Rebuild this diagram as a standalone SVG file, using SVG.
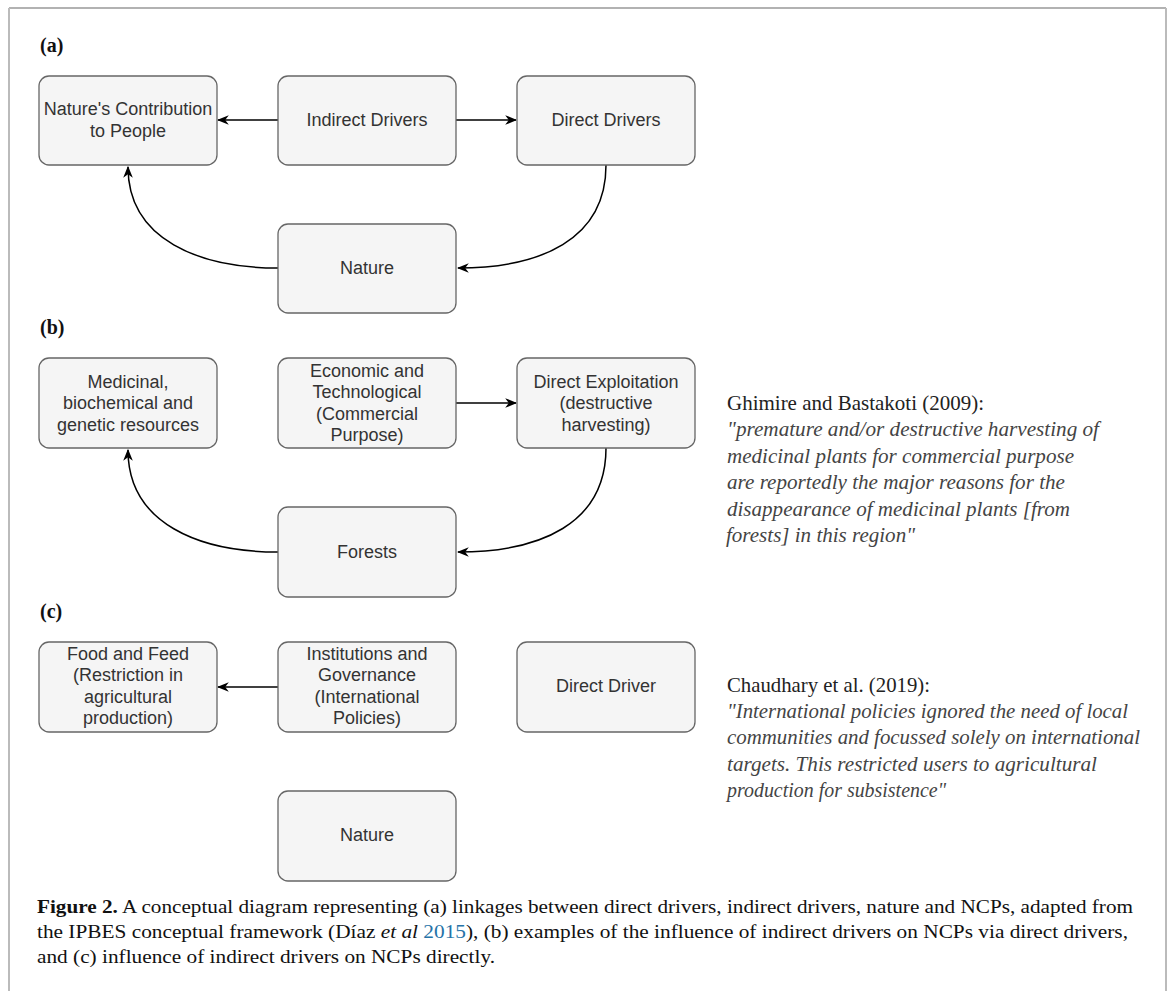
<svg xmlns="http://www.w3.org/2000/svg" width="1173" height="991" viewBox="0 0 1173 991">
<style>
.box{fill:#f5f5f5;stroke:#666;stroke-width:1.3}
.bt{font-family:"Liberation Sans",Arial,sans-serif;font-size:18px;fill:#333;text-anchor:middle}
.lbl{font-family:"Liberation Serif","Times New Roman",serif;font-size:20px;font-weight:bold;fill:#111}
.cite{font-family:"Liberation Serif","Times New Roman",serif;font-size:21px;fill:#222}
.quote{font-family:"Liberation Serif","Times New Roman",serif;font-size:21px;font-style:italic;fill:#444}
.cap{font-family:"Liberation Serif","Times New Roman",serif;font-size:19px;fill:#111}
.conn{fill:none;stroke:#000;stroke-width:1.5;marker-end:url(#arr)}
</style>
<defs>
<marker id="arr" viewBox="0 0 10 8" refX="9" refY="4" markerWidth="12" markerHeight="10" markerUnits="userSpaceOnUse" orient="auto">
<path d="M0,0 L10,4 L0,8 L3,4 Z" fill="#000"/>
</marker>
</defs>
<rect width="1173" height="991" fill="#fff"/>
<g id="frame">
<line x1="9" y1="8" x2="1166" y2="8" stroke="#999" stroke-width="1.5"/>
<line x1="9" y1="8" x2="9" y2="991" stroke="#bbb" stroke-width="2"/>
<line x1="1166" y1="8" x2="1166" y2="991" stroke="#bbb" stroke-width="2"/>
</g>
<g id="labels">
<text class="lbl" x="40" y="52">(a)</text>
<text class="lbl" x="40" y="334">(b)</text>
<text class="lbl" x="40" y="618">(c)</text>
</g>
<g id="connectors">
<line class="conn" x1="278" y1="120" x2="218" y2="120"/>
<line class="conn" x1="456" y1="120" x2="516" y2="120"/>
<path class="conn" d="M606 165 C606 240 540 268 458 268"/>
<path class="conn" d="M278 268 C200 268 128 240 128 167"/>
<line class="conn" x1="456" y1="403" x2="516" y2="403"/>
<path class="conn" d="M606 448 C606 524 540 552 458 552"/>
<path class="conn" d="M278 552 C200 552 128 524 128 450"/>
<line class="conn" x1="278" y1="687" x2="218" y2="687"/>
</g>
<g id="a-ncp"><rect class="box" x="39" y="76" width="178" height="89" rx="10"/>
<text class="bt" x="128" y="115">Nature's Contribution</text><text class="bt" x="128" y="137">to People</text></g>
<g id="a-indirect"><rect class="box" x="278" y="76" width="178" height="89" rx="10"/>
<text class="bt" x="367" y="126">Indirect Drivers</text></g>
<g id="a-direct"><rect class="box" x="517" y="76" width="178" height="89" rx="10"/>
<text class="bt" x="606" y="126">Direct Drivers</text></g>
<g id="a-nature"><rect class="box" x="278" y="224" width="178" height="89" rx="10"/>
<text class="bt" x="367" y="274">Nature</text></g>

<g id="b-medicinal"><rect class="box" x="39" y="358" width="178" height="90" rx="10"/>
<text class="bt" x="128" y="388">Medicinal,</text><text class="bt" x="128" y="409">biochemical and</text><text class="bt" x="128" y="431">genetic resources</text></g>
<g id="b-economic"><rect class="box" x="278" y="358" width="178" height="90" rx="10"/>
<text class="bt" x="367" y="377">Economic and</text><text class="bt" x="367" y="398">Technological</text><text class="bt" x="367" y="420">(Commercial</text><text class="bt" x="367" y="441">Purpose)</text></g>
<g id="b-exploitation"><rect class="box" x="517" y="358" width="178" height="90" rx="10"/>
<text class="bt" x="606" y="388">Direct Exploitation</text><text class="bt" x="606" y="409">(destructive</text><text class="bt" x="606" y="431">harvesting)</text></g>
<g id="b-forests"><rect class="box" x="278" y="507" width="178" height="90" rx="10"/>
<text class="bt" x="367" y="558">Forests</text></g>

<g id="c-food"><rect class="box" x="39" y="642" width="178" height="90" rx="10"/>
<text class="bt" x="128" y="660">Food and Feed</text><text class="bt" x="128" y="681">(Restriction in</text><text class="bt" x="128" y="703">agricultural</text><text class="bt" x="128" y="724">production)</text></g>
<g id="c-institutions"><rect class="box" x="278" y="642" width="178" height="90" rx="10"/>
<text class="bt" x="367" y="660">Institutions and</text><text class="bt" x="367" y="681">Governance</text><text class="bt" x="367" y="703">(International</text><text class="bt" x="367" y="724">Policies)</text></g>
<g id="c-direct"><rect class="box" x="517" y="642" width="178" height="90" rx="10"/>
<text class="bt" x="606" y="692">Direct Driver</text></g>
<g id="c-nature"><rect class="box" x="278" y="791" width="178" height="90" rx="10"/>
<text class="bt" x="367" y="841">Nature</text></g>

<g id="quote-b">
<text class="cite" x="727" y="410" textLength="257" lengthAdjust="spacingAndGlyphs">Ghimire and Bastakoti (2009):</text>
<text class="quote" x="727" y="436" textLength="372" lengthAdjust="spacingAndGlyphs">"premature and/or destructive harvesting of</text>
<text class="quote" x="727" y="463" textLength="347" lengthAdjust="spacingAndGlyphs">medicinal plants for commercial purpose</text>
<text class="quote" x="727" y="489" textLength="338" lengthAdjust="spacingAndGlyphs">are reportedly the major reasons for the</text>
<text class="quote" x="727" y="516" textLength="343" lengthAdjust="spacingAndGlyphs">disappearance of medicinal plants [from</text>
<text class="quote" x="726" y="542" textLength="189" lengthAdjust="spacingAndGlyphs">forests] in this region"</text>
</g>
<g id="quote-c">
<text class="cite" x="727" y="692" textLength="203" lengthAdjust="spacingAndGlyphs">Chaudhary et al. (2019):</text>
<text class="quote" x="727" y="718" textLength="401" lengthAdjust="spacingAndGlyphs">"International policies ignored the need of local</text>
<text class="quote" x="727" y="744" textLength="413" lengthAdjust="spacingAndGlyphs">communities and focussed solely on international</text>
<text class="quote" x="727" y="771" textLength="370" lengthAdjust="spacingAndGlyphs">targets. This restricted users to agricultural</text>
<text class="quote" x="727" y="797" textLength="219" lengthAdjust="spacingAndGlyphs">production for subsistence"</text>
</g>
<g id="caption">
<text class="cap" x="37" y="913" textLength="1096" lengthAdjust="spacingAndGlyphs"><tspan font-weight="bold">Figure 2.</tspan> A conceptual diagram representing (a) linkages between direct drivers, indirect drivers, nature and NCPs, adapted from</text>
<text class="cap" x="37" y="938" textLength="1091" lengthAdjust="spacingAndGlyphs">the IPBES conceptual framework (Díaz <tspan font-style="italic">et al</tspan> <tspan fill="#2673a8">2015</tspan>), (b) examples of the influence of indirect drivers on NCPs via direct drivers,</text>
<text class="cap" x="37" y="963" textLength="458" lengthAdjust="spacingAndGlyphs">and (c) influence of indirect drivers on NCPs directly.</text>
</g>
</svg>
